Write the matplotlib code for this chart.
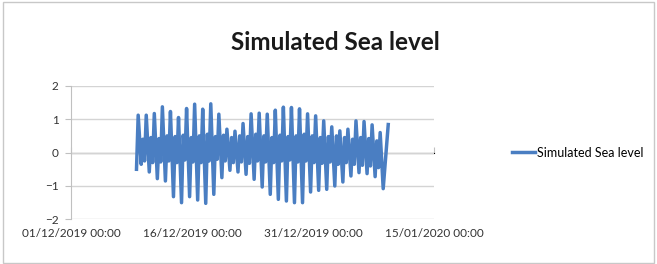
import numpy as np
import pandas as pd
import matplotlib
matplotlib.use("Agg")
import matplotlib.pyplot as plt
import matplotlib.dates as mdates
from matplotlib.patches import Rectangle

plt.rcParams['font.family'] = ['Lato', 'DejaVu Sans']

# daily tide turning points (m)
start_day = "2019-12-09"
first_low = -0.50
high_water = [1.12, 1.12, 1.17, 1.37, 1.23, 1.05, 1.32, 1.45, 1.30, 1.46, 1.15,
              0.70, 0.64, 0.87, 1.16, 1.18, 1.15, 1.27, 1.36, 1.35, 1.31, 1.16,
              1.10, 0.95, 0.77, 0.65, 0.70, 0.95, 0.93, 0.83, 0.60, 0.84]
low_water = [-0.35, -0.58, -0.78, -0.85, -1.32, -1.50, -1.32, -1.42, -1.52, -1.25,
             -0.75, -0.53, -0.58, -0.65, -0.80, -1.03, -1.25, -1.40, -1.45, -1.50,
             -1.50, -1.18, -1.13, -1.10, -1.00, -0.88, -0.70, -0.60, -0.63, -0.72,
             -1.08]
# smaller second tide of the day
second_high = [0.40, 0.45, 0.42, 0.50, 0.48, 0.52, 0.45, 0.50, 0.55, 0.48,
               0.52, 0.45, 0.50, 0.48, 0.55, 0.50, 0.45, 0.52, 0.48, 0.50,
               0.55, 0.50, 0.45, 0.48, 0.50, 0.45, 0.40, 0.45, 0.42, 0.35]
second_low = [-0.25, -0.30, -0.28, -0.25, -0.30, -0.22, -0.28, -0.30, -0.25, -0.20,
              -0.25, -0.30, -0.28, -0.32, -0.25, -0.28, -0.30, -0.25, -0.22, -0.28,
              -0.25, -0.30, -0.32, -0.28, -0.35, -0.30, -0.35, -0.38, -0.40, -0.45]

x_ticks = ["2019-12-01", "2019-12-16", "2019-12-31", "2020-01-15"]

# assemble the series: H 08:00, L 17:00, h 22:00, l 03:00 next day
day0 = pd.Timestamp(start_day)
times = [day0 + pd.Timedelta(hours=3)]
level = [first_low]
for i in range(len(low_water)):
    d = day0 + pd.Timedelta(days=i)
    times.append(d + pd.Timedelta(hours=8)); level.append(high_water[i])
    times.append(d + pd.Timedelta(hours=17)); level.append(low_water[i])
    if i < len(second_high):
        times.append(d + pd.Timedelta(hours=22)); level.append(second_high[i])
        times.append(d + pd.Timedelta(hours=27)); level.append(second_low[i])
times.append(day0 + pd.Timedelta(days=len(low_water), hours=8))
level.append(high_water[-1])
sea = pd.Series(level, index=pd.DatetimeIndex(times))

fig = plt.figure(figsize=(6.57, 2.64), dpi=100)
fig.patches.append(Rectangle((0.004, 0.004), 0.991, 0.99, transform=fig.transFigure,
                             fill=False, edgecolor='#c8c8c8', lw=1))
ax = fig.add_axes([0.108, 0.169, 0.5525, 0.506])

ax.plot(sea.index, sea.values, color='#4A7EC2', lw=2.5, label='Simulated Sea level')

ax.set_ylim(-2, 2)
ax.set_yticks([-2, -1, 0, 1, 2])
ax.set_xlim(pd.Timestamp(x_ticks[0]), pd.Timestamp(x_ticks[-1]))
ax.set_xticks([pd.Timestamp(t) for t in x_ticks])
ax.xaxis.set_major_formatter(mdates.DateFormatter('%d/%m/%Y %H:%M'))
ax.grid(axis='y', color='#d4d4d4', lw=1)
ax.set_axisbelow(True)

for s in ['top', 'right', 'bottom']:
    ax.spines[s].set_visible(False)
ax.spines['left'].set_color('#c0c0c0')
ax.tick_params(axis='y', length=4, color='#c0c0c0', labelsize=8.5, labelcolor='#333333', pad=5)
ax.tick_params(axis='x', length=0, labelsize=8.5, labelcolor='#333333', pad=6)

# horizontal axis crosses at zero
zero_axis = ax.secondary_xaxis(0.5)
zero_axis.set_xticks([pd.Timestamp(t) for t in x_ticks])
zero_axis.tick_params(axis='x', direction='out', length=4, color='#c0c0c0', labelbottom=False)
zero_axis.xaxis.set_major_formatter(mdates.DateFormatter(''))
zero_axis.spines['bottom'].set_color('#c0c0c0')

fig.text(0.511, 0.84, 'Simulated Sea level', ha='center', va='center',
         fontsize=17.5, fontweight='bold', color='#1a1a1a')

ax.legend(loc='center left', bbox_to_anchor=(1.2, 0.5), frameon=False,
          fontsize=9, handlelength=1.9, handletextpad=0.15, borderaxespad=0)

fig.savefig('out.png', dpi=100)
